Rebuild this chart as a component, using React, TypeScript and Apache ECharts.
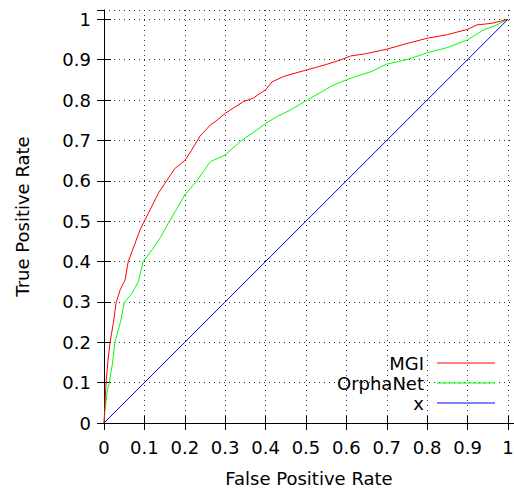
import { useEffect, useRef } from "react";
import * as echarts from "echarts";

const seriesNames = ["MGI", "OrphaNet", "x"];
const seriesColors = ["#ff0000", "#00ff00", "#0000ff"];

const mgiPoints: [number, number][] = [
  [0, 0], [0.002, 0.04], [0.005, 0.1], [0.01, 0.156], [0.015, 0.2], [0.023, 0.247],
  [0.03, 0.298], [0.04, 0.33], [0.052, 0.354], [0.06, 0.4], [0.075, 0.44], [0.09, 0.48],
  [0.1, 0.5], [0.12, 0.54], [0.135, 0.57], [0.155, 0.6], [0.175, 0.63], [0.2, 0.65],
  [0.217, 0.676], [0.238, 0.711], [0.263, 0.738], [0.28, 0.75], [0.3, 0.767], [0.32, 0.78],
  [0.345, 0.796], [0.37, 0.805], [0.387, 0.817], [0.4, 0.825], [0.416, 0.845], [0.444, 0.858],
  [0.478, 0.868], [0.5, 0.874], [0.55, 0.888], [0.585, 0.899], [0.61, 0.909], [0.65, 0.915],
  [0.7, 0.926], [0.75, 0.94], [0.8, 0.953], [0.85, 0.962], [0.9, 0.975], [0.923, 0.986],
  [0.96, 0.99], [1, 1],
];

const orphaNetPoints: [number, number][] = [
  [0, 0], [0.002, 0.025], [0.008, 0.082], [0.013, 0.098], [0.021, 0.148], [0.027, 0.2],
  [0.041, 0.251], [0.05, 0.298], [0.069, 0.321], [0.085, 0.35], [0.097, 0.4], [0.12, 0.43],
  [0.14, 0.46], [0.162, 0.5], [0.18, 0.53], [0.2, 0.565], [0.23, 0.6], [0.263, 0.647],
  [0.3, 0.664], [0.337, 0.697], [0.37, 0.72], [0.4, 0.742], [0.43, 0.76], [0.461, 0.775],
  [0.5, 0.798], [0.535, 0.818], [0.568, 0.837], [0.6, 0.85], [0.634, 0.862], [0.66, 0.87],
  [0.7, 0.889], [0.75, 0.9], [0.8, 0.917], [0.85, 0.93], [0.9, 0.949], [0.94, 0.974],
  [0.97, 0.985], [1, 1],
];

const diagonalPoints: [number, number][] = [
  [0, 0], [0.5, 0.5], [1, 1],
];

const tickInterval = 0.1;
const xMax = 1.015;
const yMax = 1.023;
const FONT = "DejaVu Sans";

export default function App() {
  const ref = useRef<HTMLDivElement>(null);
  useEffect(() => {
    const chart = echarts.init(ref.current!, null, { renderer: "svg" });
    const labelStyle = { fontSize: 18, color: "#000", fontFamily: FONT };
    const lineBlack = { color: "#000", width: 1 };
    const dotted = { color: "#333", width: 1, type: [1, 4] as any };
    const dataSets = [mgiPoints, orphaNetPoints, diagonalPoints];
    chart.setOption({
      animation: false,
      backgroundColor: "#fff",
      grid: {
        left: 104,
        top: 10,
        right: 0,
        bottom: 65,
        containLabel: false,
        outerBoundsMode: "none",
      },
      legend: {
        data: seriesNames.map((name) => ({ name, icon: "rect" })),
        orient: "vertical",
        right: 19,
        top: 354,
        padding: 0,
        align: "right",
        itemWidth: 58,
        itemHeight: 1,
        itemGap: 2,
        selectedMode: false,
        textStyle: { ...labelStyle, padding: [0, 8, 0, 0] },
      },
      xAxis: [
        {
          type: "value",
          min: 0,
          max: xMax,
          interval: tickInterval,
          position: "bottom",
          name: "False Positive Rate",
          nameLocation: "middle",
          nameGap: 46,
          nameTextStyle: labelStyle,
          axisLine: { show: true, lineStyle: lineBlack },
          axisTick: { show: true, inside: true, length: 7, lineStyle: lineBlack },
          axisLabel: { ...labelStyle, margin: 15, showMaxLabel: false, interval: 0 },
          splitLine: { show: true, lineStyle: dotted },
        },
        {
          type: "value",
          min: 0,
          max: xMax,
          interval: tickInterval,
          position: "top",
          axisLine: { show: true, lineStyle: lineBlack },
          axisTick: { show: true, inside: true, length: 7, lineStyle: lineBlack },
          axisLabel: { show: false },
          splitLine: { show: false },
        },
      ],
      yAxis: [
        {
          type: "value",
          min: 0,
          max: yMax,
          interval: tickInterval,
          position: "left",
          name: "True Positive Rate",
          nameLocation: "middle",
          nameGap: 73,
          nameRotate: 90,
          nameTextStyle: labelStyle,
          axisLine: { show: true, lineStyle: lineBlack },
          axisTick: { show: true, inside: true, length: 7, lineStyle: lineBlack },
          axisLabel: { ...labelStyle, margin: 13, showMaxLabel: false, interval: 0 },
          splitLine: { show: true, lineStyle: dotted },
        },
        {
          type: "value",
          min: 0,
          max: yMax,
          interval: tickInterval,
          position: "right",
          axisLine: { show: true, lineStyle: lineBlack },
          axisTick: { show: true, inside: true, length: 7, lineStyle: lineBlack },
          axisLabel: { show: false },
          splitLine: { show: false },
        },
      ],
      series: seriesNames.map((name, i) => ({
        name,
        type: "line",
        xAxisIndex: 0,
        yAxisIndex: 0,
        data: dataSets[i],
        symbol: "none",
        showSymbol: false,
        lineStyle: { color: seriesColors[i], width: 1 },
        itemStyle: { color: seriesColors[i] },
        z: i === 2 ? 10 : 5 - i,
      })),
    });
    return () => chart.dispose();
  }, []);
  return (
    <div
      ref={ref}
      style={{ position: "fixed", left: 0, top: 0, width: 514, height: 488 }}
    />
  );
}
